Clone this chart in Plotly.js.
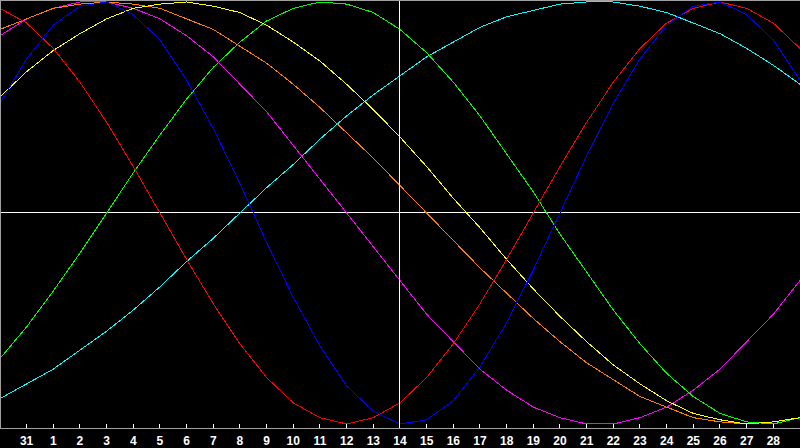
<!DOCTYPE html>
<html>
<head>
<meta charset="utf-8">
<script src="https://cdn.plot.ly/plotly-3.0.1.min.js"></script>
<style>
  html, body { margin: 0; padding: 0; background: #000; }
  #chart { width: 800px; height: 448px; }
  .scatterlayer path, .shapelayer path, .zerolinelayer path { shape-rendering: crispEdges; }
</style>
</head>
<body>
<div id="chart"></div>
<script>
// days shown: 30 Jan .. 29 Feb, x = day offset (31 Jan = 0, 1 Feb = 1)
var days = [];
for (var d = -1; d <= 29; d++) days.push(d);

var tick_vals = [0, 1, 2, 3, 4, 5, 6, 7, 8, 9, 10, 11, 12, 13, 14, 15, 16, 17, 18, 19, 20, 21, 22, 23, 24, 25, 26, 27, 28];
var tick_text = ['31', '1', '2', '3', '4', '5', '6', '7', '8', '9', '10', '11', '12', '13', '14',
                 '15', '16', '17', '18', '19', '20', '21', '22', '23', '24', '25', '26', '27', '28'];
var today = 14;

// values in percent, one per day (-1 .. 29)
var physical = [52, 73, 89, 98, 100, 94, 82, 63, 40, 14, -14, -40, -63, -82, -94, -100, -98, -89, -73, -52,
                -27, 0, 27, 52, 73, 89, 98, 100, 94, 82, 63];
var emotional = [97, 90, 78, 62, 43, 22, 0, -22, -43, -62, -78, -90, -97, -100, -97, -90, -78, -62, -43, -22,
                 0, 22, 43, 62, 78, 90, 97, 100, 97, 90, 78];
var intellectual = [-69, -54, -37, -19, 0, 19, 37, 54, 69, 81, 91, 97, 100, 99, 95, 87, 76, 62, 46, 28,
                    10, -10, -28, -46, -62, -76, -87, -95, -99, -100, -97];
var intuitive = [84, 92, 97, 100, 100, 97, 92, 84, 74, 61, 48, 32, 16, 0, -16, -32, -48, -61, -74, -84,
                 -92, -97, -100, -100, -97, -92, -84, -74, -61, -48, -32];
var aesthetic = [55, 67, 77, 85, 92, 97, 99, 100, 98, 95, 89, 81, 72, 61, 49, 36, 22, 7, -7, -22,
                 -36, -49, -61, -72, -81, -89, -95, -98, -100, -99, -97];
var awareness = [87, 92, 97, 99, 100, 99, 97, 92, 87, 79, 71, 61, 50, 38, 26, 13, 0, -13, -26, -38,
                 -50, -61, -71, -79, -87, -92, -97, -99, -100, -99, -97];
var spiritual = [-88, -81, -74, -65, -56, -46, -35, -23, -12, 0, 12, 23, 35, 46, 56, 65, 74, 81, 88, 93,
                 96, 99, 100, 100, 98, 95, 90, 85, 78, 70, 61];

var series = [
    ['Spiritual', spiritual, '#00ffff'],
    ['Intellectual', intellectual, '#00ff00'],
    ['Intuitive', intuitive, '#ff00ff'],
    ['Self-awareness', awareness, '#ff8000'],
    ['Aesthetic', aesthetic, '#ffff00'],
    ['Emotional', emotional, '#ff0000'],
    ['Physical', physical, '#0000ff']
];

var data = series.map(function (s) {
    return {
        x: days,
        y: s[1],
        name: s[0],
        type: 'scatter',
        mode: 'lines',
        line: {color: s[2], width: 1},
        hoverinfo: 'skip'
    };
});

var layout = {
    width: 800,
    height: 448,
    margin: {l: 1, r: 0, t: 1, b: 20},
    paper_bgcolor: '#000000',
    plot_bgcolor: '#000000',
    showlegend: false,
    xaxis: {
        range: [-0.96, 29],
        tickvals: tick_vals,
        ticktext: tick_text,
        ticks: 'inside',
        ticklen: 4,
        tickwidth: 1,
        tickcolor: '#ffffff',
        ticklabelstandoff: 2,
        tickfont: {family: 'Liberation Sans, Arial, sans-serif', size: 12, color: '#ffffff', weight: 'bold'},
        showgrid: false,
        zeroline: false,
        showline: true,
        linecolor: '#a0a0a0',
        linewidth: 1,
        mirror: true,
        fixedrange: true
    },
    yaxis: {
        range: [-101.9, 100.47],
        showticklabels: false,
        ticks: '',
        showgrid: false,
        zeroline: true,
        zerolinecolor: '#ffffff',
        zerolinewidth: 1,
        showline: true,
        linecolor: '#a0a0a0',
        linewidth: 1,
        fixedrange: true
    },
    shapes: [{
        type: 'line',
        xref: 'x', yref: 'paper',
        x0: today, x1: today, y0: 0, y1: 1,
        line: {color: '#ffffff', width: 1}
    }]
};

Plotly.newPlot('chart', data, layout, {staticPlot: true});
</script>
</body>
</html>
